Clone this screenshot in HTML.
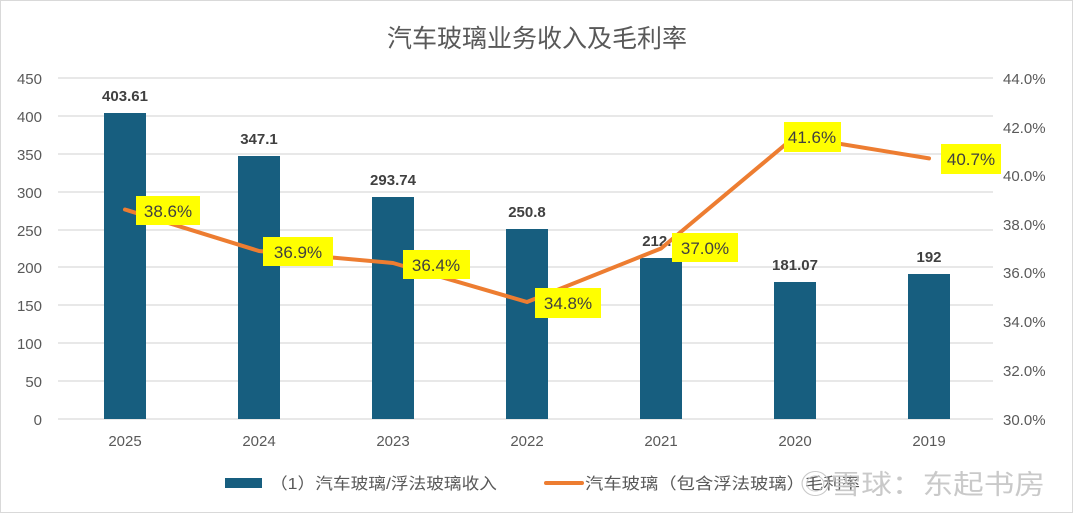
<!DOCTYPE html><html><head><meta charset="utf-8"><style>body{margin:0;background:#fff}svg{display:block}text{font-family:"Liberation Sans","Noto Sans CJK SC",sans-serif}</style></head><body>
<svg width="1074" height="514" xmlns="http://www.w3.org/2000/svg">
<rect x="0.5" y="0.5" width="1072" height="512" fill="#fff" stroke="#d9d9d9"/>
<text x="537" y="47" text-anchor="middle" font-size="25" fill="#595959">汽车玻璃业务收入及毛利率</text>
<g stroke="#d9d9d9" stroke-width="1.3">
<line x1="58" x2="993" y1="78" y2="78"/><line x1="58" x2="993" y1="116" y2="116"/><line x1="58" x2="993" y1="154" y2="154"/><line x1="58" x2="993" y1="192" y2="192"/><line x1="58" x2="993" y1="230" y2="230"/><line x1="58" x2="993" y1="267" y2="267"/><line x1="58" x2="993" y1="305" y2="305"/><line x1="58" x2="993" y1="343" y2="343"/><line x1="58" x2="993" y1="381" y2="381"/><line x1="58" x2="993" y1="419" y2="419"/></g>
<g font-size="15" fill="#595959" text-anchor="end">
<text x="42" y="84">450</text><text x="42" y="122">400</text><text x="42" y="160">350</text><text x="42" y="198">300</text><text x="42" y="236">250</text><text x="42" y="273">200</text><text x="42" y="311">150</text><text x="42" y="349">100</text><text x="42" y="387">50</text><text x="42" y="425">0</text></g>
<g font-size="15" fill="#595959">
<text x="1003" y="84">44.0%</text><text x="1003" y="133">42.0%</text><text x="1003" y="181">40.0%</text><text x="1003" y="230">38.0%</text><text x="1003" y="278">36.0%</text><text x="1003" y="327">34.0%</text><text x="1003" y="376">32.0%</text><text x="1003" y="425">30.0%</text></g>
<g fill="#175e7f">
<rect x="104" y="113" width="42" height="306"/><rect x="238" y="156" width="42" height="263"/><rect x="372" y="197" width="42" height="222"/><rect x="506" y="229" width="42" height="190"/><rect x="640" y="258" width="42" height="161"/><rect x="774" y="282" width="42" height="137"/><rect x="908" y="274" width="42" height="145"/></g>
<g font-size="15" font-weight="bold" fill="#404040" text-anchor="middle">
<text x="125" y="101">403.61</text><text x="259" y="144">347.1</text><text x="393" y="185">293.74</text><text x="527" y="217">250.8</text><text x="661" y="246">212.7</text><text x="795" y="270">181.07</text><text x="929" y="262">192</text></g>
<g font-size="15" fill="#595959" text-anchor="middle">
<text x="125" y="446">2025</text><text x="259" y="446">2024</text><text x="393" y="446">2023</text><text x="527" y="446">2022</text><text x="661" y="446">2021</text><text x="795" y="446">2020</text><text x="929" y="446">2019</text></g>
<polyline points="125,209.5 259,251 393,263 527,302 661,248.5 795,136.5 929,158.4" fill="none" stroke="#ed7d31" stroke-width="4" stroke-linejoin="round" stroke-linecap="round"/>
<g fill="#ffff00"><rect x="136" y="196" width="64" height="29"/><rect x="263" y="237" width="70" height="29"/><rect x="403" y="250" width="67" height="29"/><rect x="535" y="288" width="66" height="30"/><rect x="672" y="233" width="66" height="29"/><rect x="784" y="122" width="57" height="30"/><rect x="941" y="144" width="60" height="30"/></g>
<g font-size="17" fill="#404040" text-anchor="middle">
<text x="168" y="217">38.6%</text><text x="298" y="258">36.9%</text><text x="436" y="271">36.4%</text><text x="568" y="309">34.8%</text><text x="705" y="254">37.0%</text><text x="812" y="143">41.6%</text><text x="971" y="165">40.7%</text></g>
<rect x="225" y="478" width="37" height="10" fill="#175e7f"/>
<text x="270" y="489" font-size="16" fill="#595959" textLength="227" lengthAdjust="spacingAndGlyphs">（1）汽车玻璃/浮法玻璃收入</text>
<line x1="546" y1="483" x2="582" y2="483" stroke="#ed7d31" stroke-width="4" stroke-linecap="round"/>
<text x="585" y="489" font-size="16" fill="#595959" textLength="275" lengthAdjust="spacingAndGlyphs">汽车玻璃（包含浮法玻璃）毛利率</text>
<text x="800" y="494" font-size="27" fill="#c4c4c4" opacity="0.9" textLength="245" lengthAdjust="spacingAndGlyphs">◎雪球：东起书房</text>
</svg></body></html>
